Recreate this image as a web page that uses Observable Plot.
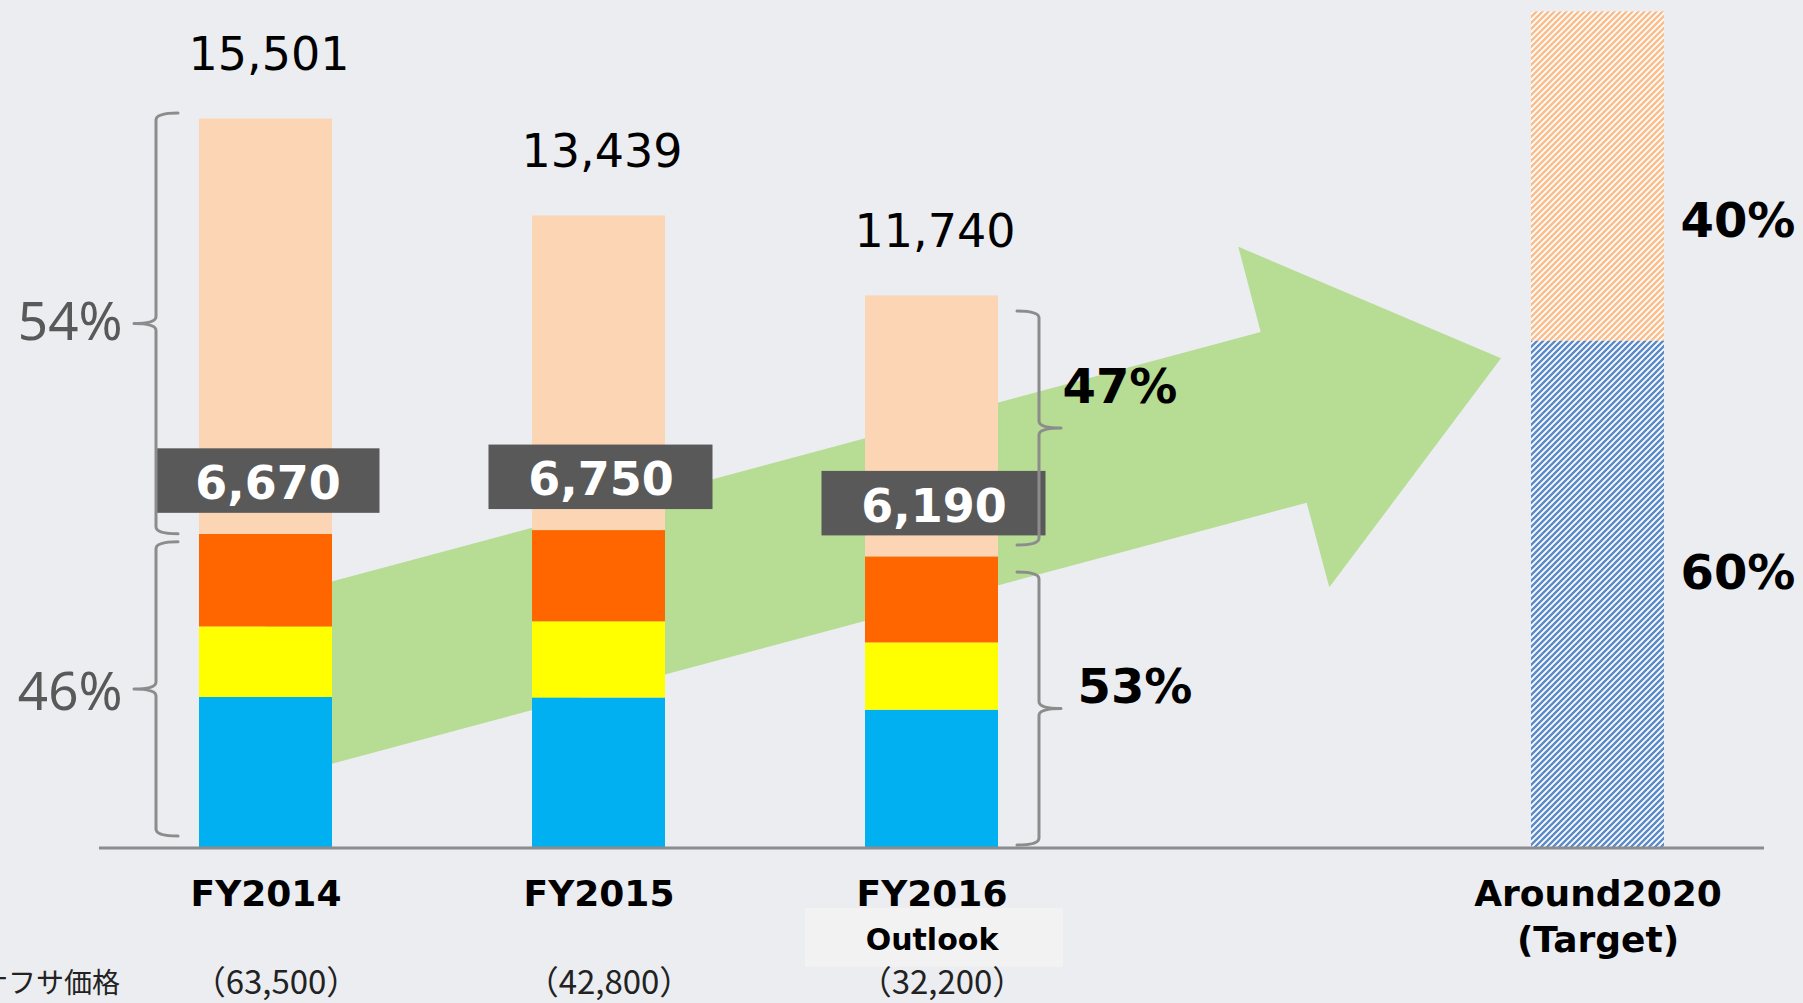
<!DOCTYPE html>
<html>
<head>
<meta charset="utf-8">
<script src="https://cdn.jsdelivr.net/npm/d3@7"></script>
<script src="https://cdn.jsdelivr.net/npm/@observablehq/plot@0.6"></script>
<style>
html, body { margin: 0; padding: 0; background: #ebedf1; overflow: hidden; }
#chart { width: 1803px; height: 1003px; }
</style>
</head>
<body>
<div id="chart"></div>
<script>
// ---------------- data ----------------
const categories = ["FY2014", "FY2015", "FY2016", "gap", "Around2020"];
const years = ["FY2014", "FY2015", "FY2016"];
const blueValues = [3200, 3190, 2930];
const yellowValues = [1500, 1620, 1430];
const orangeValues = [1970, 1940, 1830];
const peachValues = [8831, 6689, 5550];
const totals = [15501, 13439, 11740];
const subtotals = [6670, 6750, 6190];
const naphthaLabel = "ナフサ価格";
const naphthaPrices = ["（63,500）", "（42,800）", "（32,200）"];
const tickLine1 = ["FY2014", "FY2015", "FY2016", "Around2020"];
const tickLine2 = ["", "", "Outlook", "(Target)"];
const targetCategory = "Around2020";
const targetSeries = ["hatchBlue", "hatchPeach"];
const targetValues = [10780, 7000];
const targetShares = ["60%", "40%"];
const fy2014Shares = ["54%", "46%"];
const fy2016Shares = ["47%", "53%"];
const seriesNames = ["blue", "yellow", "orange", "peach", "hatchBlue", "hatchPeach"];
const seriesColors = ["#00b0f0", "#ffff00", "#ff6600", "#fcd5b5", "url(#hatchBlue)", "url(#hatchPeach)"];
// arrow outline: slot index along x (0 = FY2014) and value on the y scale
const arrowSlots = [0, 2.9886, 2.9213, 3.7102, 3.1946, 3.1267, 0];
const arrowValues = [5278, 10961, 12775, 10402, 5533, 7332, 1403];

// ---------------- table ----------------
const rows = [];
years.forEach((c, i) => {
  rows.push({cat: c, series: "blue", value: blueValues[i]});
  rows.push({cat: c, series: "yellow", value: yellowValues[i]});
  rows.push({cat: c, series: "orange", value: orangeValues[i]});
  rows.push({cat: c, series: "peach", value: peachValues[i]});
});
targetSeries.forEach((s, i) => rows.push({cat: targetCategory, series: s, value: targetValues[i]}));
const tickCats = [...years, targetCategory];

// ---------------- helpers ----------------
function bw(scales) {
  return typeof scales.x.bandwidth === "function" ? scales.x.bandwidth() : 133;
}
function slotX(scales, s) {
  const x = scales.x;
  const i = Math.floor(s), f = s - i;
  const step = x(categories[1]) - x(categories[0]);
  return x(categories[i]) + bw(scales) / 2 + f * step;
}
function arrowMark(index, scales) {
  const g = d3.create("svg:g");
  const pts = arrowSlots.map((s, i) => [slotX(scales, s), scales.y(arrowValues[i])]);
  g.append("path")
    .attr("d", "M" + pts.map(p => p.join(",")).join("L") + "Z")
    .attr("fill", "#b7dc93");
  return g.node();
}
function boxMark(index, scales) {
  const g = d3.create("svg:g");
  years.forEach((c, i) => {
    const cx = scales.x(c) + bw(scales) / 2 + 2;
    const cy = scales.y(subtotals[i]) - 53;
    g.append("rect").attr("x", cx - 112).attr("y", cy - 32.5)
      .attr("width", 224).attr("height", 64.5).attr("fill", "#595959");
  });
  return g.node();
}
function outlookBoxMark(index, scales) {
  const g = d3.create("svg:g");
  const i = tickLine2.indexOf("Outlook");
  const cx = scales.x(tickCats[i]) + bw(scales) / 2 + 2.5;
  const cy = scales.y(0) + 90;
  g.append("rect").attr("x", cx - 129).attr("y", cy - 29.5)
    .attr("width", 258).attr("height", 59).attr("fill", "#f2f2f2");
  return g.node();
}
function bracePath(vx, top, bot, dir, hook, tip) {
  const mid = (top + bot) / 2, r = 7;
  const h = -dir * hook;
  return `M${vx + h},${top} Q${vx},${top} ${vx},${top + r} L${vx},${mid - r} ` +
    `Q${vx},${mid} ${vx + dir * tip},${mid} Q${vx},${mid} ${vx},${mid + r} ` +
    `L${vx},${bot - r} Q${vx},${bot} ${vx + h},${bot}`;
}
function braceMark(index, scales) {
  const g = d3.create("svg:g");
  const braces = [
    {cat: "FY2014", dir: -1, lo: subtotals[0], hi: totals[0], inTop: -5.5, inBot: 0},
    {cat: "FY2014", dir: -1, lo: 0, hi: subtotals[0], inTop: 8, inBot: 11.5},
    {cat: "FY2016", dir: 1, lo: subtotals[2], hi: totals[2], inTop: 15.5, inBot: 11.5},
    {cat: "FY2016", dir: 1, lo: 0, hi: subtotals[2], inTop: 15.5, inBot: 2.5}
  ];
  braces.forEach(b => {
    const x0 = scales.x(b.cat);
    const vx = b.dir < 0 ? x0 - 43 : x0 + bw(scales) + 41;
    const top = scales.y(b.hi) + b.inTop;
    const bot = scales.y(b.lo) - b.inBot;
    g.append("path").attr("d", bracePath(vx, top, bot, b.dir, 22, 22))
      .attr("fill", "none").attr("stroke", "#8c8c8c").attr("stroke-width", 3)
      .attr("stroke-linejoin", "round").attr("stroke-linecap", "round");
  });
  return g.node();
}
const one = (text, cat, yv, opts) =>
  Plot.text([text], {x: () => cat, y: () => yv, text: d => d, ...opts});

const boldFont = {fontFamily: "'DejaVu Sans', Verdana, sans-serif", fontWeight: "bold"};
const cjkFont = "'Noto Sans CJK JP', sans-serif";

// ---------------- plot ----------------
const svg = Plot.plot({
  width: 1803,
  height: 1003,
  marginTop: 1,
  marginBottom: 155.5,
  marginLeft: 99,
  marginRight: 39,
  style: {background: "#ebedf1", overflow: "visible"},
  x: {domain: categories, paddingInner: 0.6, paddingOuter: 0.3, axis: null},
  y: {domain: [0, 18000], axis: null},
  color: {domain: seriesNames, range: seriesColors},
  marks: [
    arrowMark,
    Plot.barY(rows, {x: "cat", y: "value", fill: "series"}),
    boxMark,
    Plot.text(subtotals, {
      x: (d, i) => years[i], y: d => d, text: d => d3.format(",")(d),
      dy: -50, dx: 2, fill: "white", fontSize: 46, ...boldFont
    }),
    Plot.text(totals, {
      x: (d, i) => years[i], y: d => d, text: d => d3.format(",")(d),
      dy: -64, dx: 3, fill: "black", fontSize: 46, fontFamily: "'DejaVu Sans', Verdana, sans-serif"
    }),
    braceMark,
    // share labels next to braces
    one(fy2014Shares[0], "FY2014", (subtotals[0] + totals[0]) / 2,
      {textAnchor: "end", dx: -143.5, dy: -4, fontSize: 53, fill: "#595959", fontFamily: "'Noto Sans', sans-serif"}),
    one(fy2014Shares[1], "FY2014", subtotals[0] / 2,
      {textAnchor: "end", dx: -143.5, dy: 2, fontSize: 53, fill: "#595959", fontFamily: "'Noto Sans', sans-serif"}),
    one(fy2016Shares[0], "FY2016", (subtotals[2] + totals[2]) / 2,
      {textAnchor: "start", dx: 130.5, dy: -38.5, fontSize: 48, fill: "black", ...boldFont}),
    one(fy2016Shares[1], "FY2016", subtotals[2] / 2,
      {textAnchor: "start", dx: 145.5, dy: -14.5, fontSize: 48, fill: "black", ...boldFont}),
    one(targetShares[0], targetCategory, targetValues[0] / 2,
      {textAnchor: "start", dx: 82.5, dy: -21, fontSize: 48, fill: "black", ...boldFont}),
    one(targetShares[1], targetCategory, targetValues[0] + targetValues[1] / 2,
      {textAnchor: "start", dx: 82.5, dy: 45, fontSize: 48, fill: "black", ...boldFont}),
    // baseline
    Plot.ruleY([0], {stroke: "#8c8c8c", strokeWidth: 3}),
    // category labels
    Plot.text(tickLine1, {
      x: (d, i) => tickCats[i], y: () => 0, text: d => d,
      dy: 46, fontSize: 36, fill: "black", ...boldFont
    }),
    outlookBoxMark,
    Plot.text(tickLine2, {
      x: (d, i) => tickCats[i], y: () => 0, text: d => d,
      dy: 92, fontSize: 36, fill: "black", ...boldFont
    }),
    // naphtha price row
    one(naphthaLabel, "FY2014", 0,
      {textAnchor: "end", dx: -146, dy: 136, fontSize: 28, fill: "#222", fontFamily: cjkFont}),
    Plot.text(naphthaPrices, {
      x: (d, i) => years[i], y: () => 0, text: d => d,
      dx: 10, dy: 135, fontSize: 33, fill: "#222", fontFamily: cjkFont
    })
  ]
});

// hatch patterns for the target bar
const defs = d3.select(svg).insert("defs", ":first-child");
function hatch(id, color) {
  const p = defs.append("pattern").attr("id", id)
    .attr("patternUnits", "userSpaceOnUse").attr("width", 6).attr("height", 6);
  p.append("rect").attr("width", 6).attr("height", 6).attr("fill", "#ffffff");
  p.append("path").attr("d", "M-1,1 L1,-1 M0,6 L6,0 M5,7 L7,5")
    .attr("stroke", color).attr("stroke-width", 2.4);
}
hatch("hatchBlue", "#5a8ac8");
hatch("hatchPeach", "#fbbd8a");

// make "Outlook" smaller than the other second-line labels
d3.select(svg).selectAll("text").filter(function () { return this.textContent === "Outlook"; })
  .attr("font-size", 30);

document.getElementById("chart").appendChild(svg);
</script>
</body>
</html>
